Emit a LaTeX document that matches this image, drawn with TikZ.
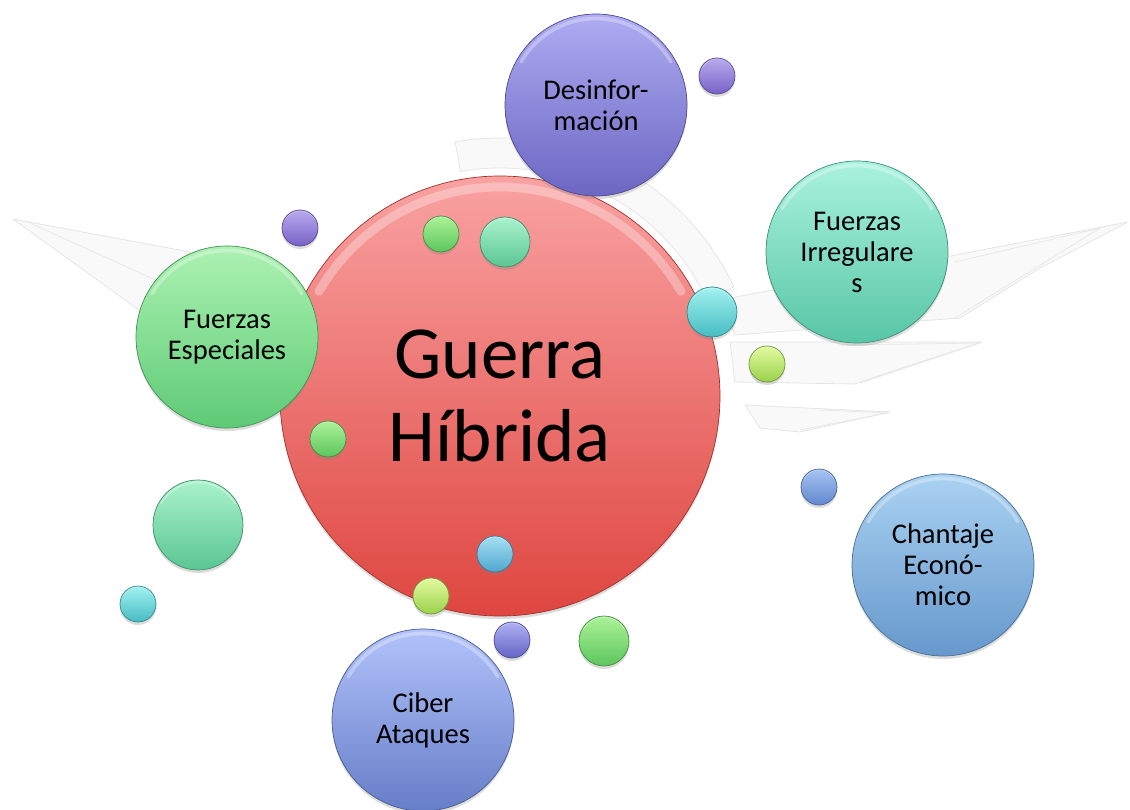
\documentclass[tikz,border=0pt]{standalone}
\usepackage{fontspec}
\setmainfont{Carlito}
\usetikzlibrary{shadows,calc}
\definecolor{redT}{RGB}{249,162,162}\definecolor{redB}{RGB}{222,70,64}
\definecolor{desT}{RGB}{174,172,242}\definecolor{desB}{RGB}{108,102,194}
\definecolor{firT}{RGB}{170,242,222}\definecolor{firB}{RGB}{88,198,166}
\definecolor{fesT}{RGB}{172,242,178}\definecolor{fesB}{RGB}{94,202,118}
\definecolor{chaT}{RGB}{170,210,242}\definecolor{chaB}{RGB}{102,152,204}
\definecolor{cibT}{RGB}{178,194,250}\definecolor{cibB}{RGB}{102,126,200}
\definecolor{purT}{RGB}{184,170,238}\definecolor{purB}{RGB}{118,98,198}
\definecolor{grnT}{RGB}{172,242,152}\definecolor{grnB}{RGB}{92,198,92}
\definecolor{tgrT}{RGB}{170,242,204}\definecolor{tgrB}{RGB}{90,198,148}
\definecolor{cyaT}{RGB}{162,242,240}\definecolor{cyaB}{RGB}{70,188,194}
\definecolor{ylwT}{RGB}{226,252,160}\definecolor{ylwB}{RGB}{156,208,76}
\definecolor{cbuT}{RGB}{166,224,242}\definecolor{cbuB}{RGB}{80,166,208}
\definecolor{pbuT}{RGB}{176,176,242}\definecolor{pbuB}{RGB}{100,100,198}
\definecolor{bluT}{RGB}{166,196,242}\definecolor{bluB}{RGB}{98,136,206}
\tikzset{
  bubble/.style n args={3}{circle, inner sep=0pt, minimum size=#3,
    top color=#1, bottom color=#2, draw=#2!72!black, line width=0.7pt,
    align=center, text=black,
    drop shadow={opacity=0.28, shadow xshift=0pt, shadow yshift=-3pt},
    path picture={\draw[white, opacity=0.3, line width={0.02*#3}, line cap=round]
      ($(path picture bounding box.center)+(30:{0.475*#3})$)
      arc[start angle=30, end angle=150, radius={0.475*#3}];}},
  lbl/.style={font=\fontsize{28.5}{31}\selectfont},
  wm/.style={fill=black!2.5, draw=black!10, line width=0.8pt, line join=round},
  wml/.style={draw=black!9, line width=0.8pt},
}
\begin{document}
\begin{tikzpicture}[x=1pt,y=-1pt]
\useasboundingbox (0,0) rectangle (1130,810);
% watermark emblem
\path[wm] ($(500,396)+(-25:228)$) arc[start angle=-25, end angle=-100, radius=228]
   -- ($(500,396)+(-100:258)$) arc[start angle=-100, end angle=-25, radius=258] -- cycle;
\path[wm] (13,219) -- (190,252) -- (150,318) -- cycle;
\draw[wml] (28,222) -- (160,282);
\path[wm] (720,300) -- (1128,222) -- (1040,268) -- (960,318) -- (735,335) -- cycle;
\draw[wml] (955,262) -- (1100,228) -- (955,318);
\path[wm] (730,342) -- (982,342) -- (890,372) -- (855,384) -- (735,382) -- cycle;
\draw[wml] (840,345) -- (980,343) -- (860,383);
\path[wm] (745,405) -- (890,412) -- (800,432) -- (760,428) -- cycle;
\draw[wml] (820,410) -- (888,413) -- (800,430);
% main bubble
\node[bubble={redT}{redB}{440pt}, font=\fontsize{75}{83}\selectfont] (main) at (500,396) {Guerra\\Híbrida};
% satellite bubbles
\node[bubble={desT}{desB}{182pt}, lbl] (desinf) at (596,105) {Desinfor-\\mación};
\node[bubble={firT}{firB}{182pt}, lbl] (firr) at (857,252) {Fuerzas\\Irregulare\\s};
\node[bubble={fesT}{fesB}{182pt}, lbl] (fesp) at (227,337) {Fuerzas\\Especiales};
\node[bubble={chaT}{chaB}{182pt}, lbl] (chant) at (943,565) {Chantaje\\Econó-\\mico};
\node[bubble={cibT}{cibB}{182pt}, lbl] (ciber) at (423,720) {Ciber\\Ataques};
% small decorative bubbles
\node[bubble={purT}{purB}{36pt}] (p1) at (717,76) {};
\node[bubble={purT}{purB}{36pt}] (p2) at (300,228) {};
\node[bubble={grnT}{grnB}{36pt}] (g1) at (441,234) {};
\node[bubble={tgrT}{tgrB}{50pt}] (g2) at (505,242) {};
\node[bubble={cyaT}{cyaB}{50pt}] (c1) at (712,312) {};
\node[bubble={ylwT}{ylwB}{36pt}] (y1) at (767,364) {};
\node[bubble={grnT}{grnB}{36pt}] (g3) at (328,439) {};
\node[bubble={tgrT}{tgrB}{90pt}] (g4) at (198,525) {};
\node[bubble={cyaT}{cyaB}{36pt}] (c2) at (138,604) {};
\node[bubble={cbuT}{cbuB}{36pt}] (c3) at (495,554) {};
\node[bubble={ylwT}{ylwB}{36pt}] (y2) at (431,596) {};
\node[bubble={pbuT}{pbuB}{36pt}] (b1) at (512,640) {};
\node[bubble={grnT}{grnB}{50pt}] (g5) at (604,641) {};
\node[bubble={bluT}{bluB}{36pt}] (b2) at (819,487) {};
\end{tikzpicture}
\end{document}
